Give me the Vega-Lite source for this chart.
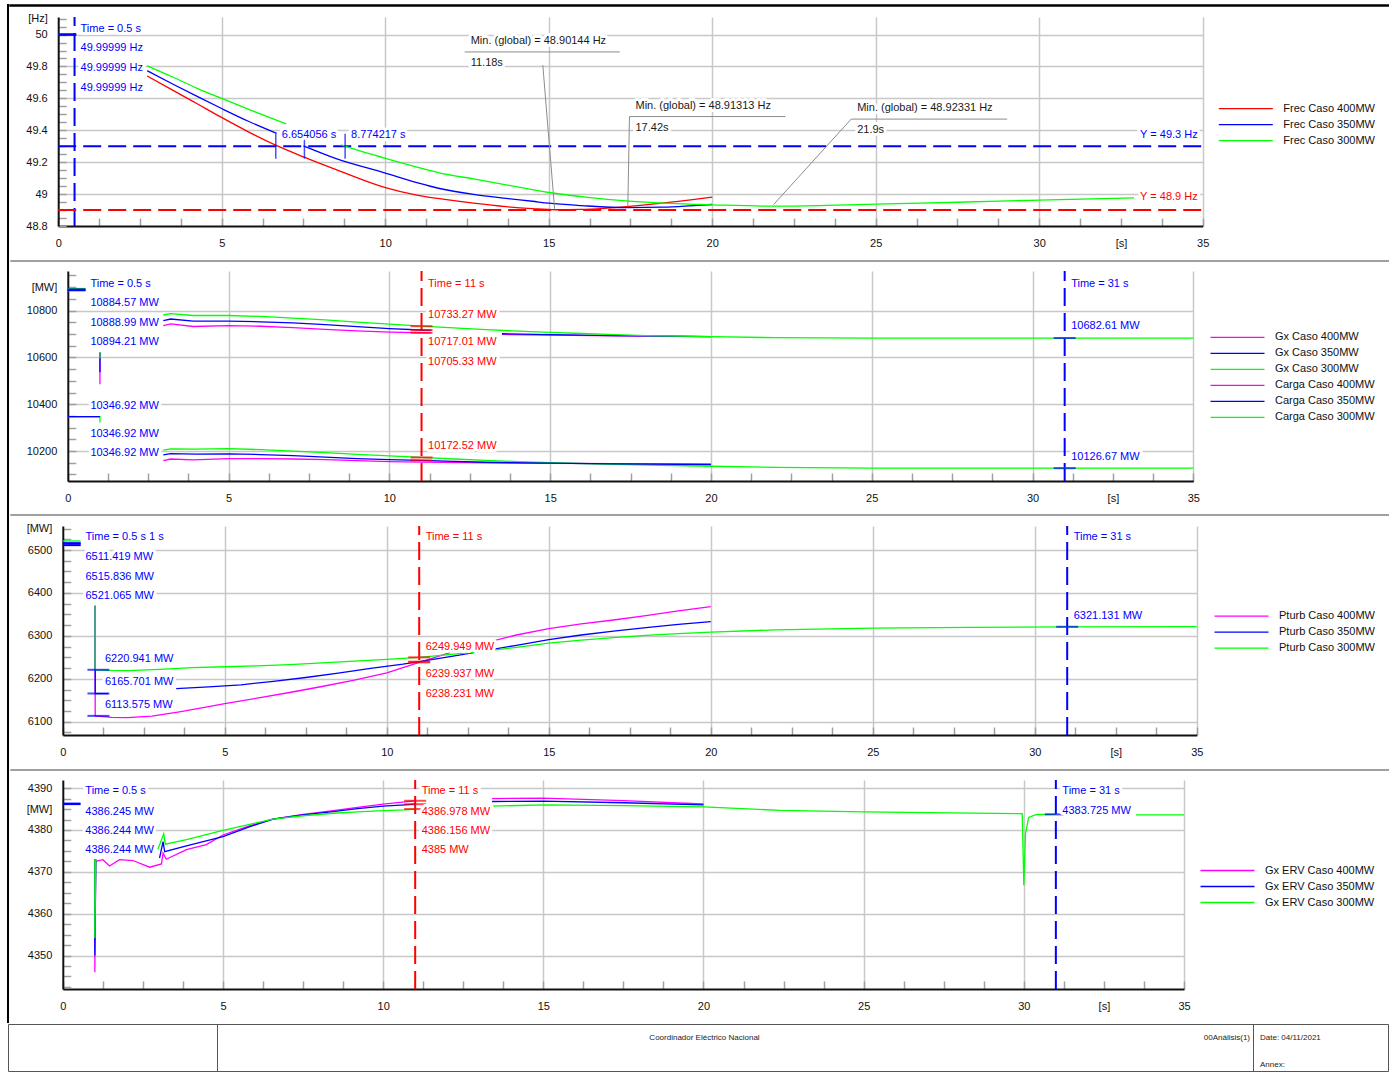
{
"$schema": "https://vega.github.io/schema/vega-lite/v6.json",
"background": "white",
"padding": {"left": 7, "top": 4, "right": 0, "bottom": 0},
"config": {
  "font": "Liberation Sans",
  "view": {"stroke": null},
  "axis": {"labelFont": "Liberation Sans", "labelFontSize": 11, "labelColor": "#111111", "domainColor": "#111111", "domainWidth": 2, "tickColor": "#a0a0a0", "tickWidth": 1.5, "tickSize": -8, "labelPadding": 19, "gridColor": "#c8c8c8", "gridWidth": 1.5, "labelOverlap": false, "labelFlush": false},
  "legend": {"orient": "none", "symbolType": "stroke", "symbolSize": 2916, "symbolStrokeWidth": 1.3, "labelFont": "Liberation Sans", "labelFontSize": 11, "labelColor": "#111111", "labelOffset": 9.5, "rowPadding": 0, "clipHeight": 16, "padding": 0},
  "text": {"font": "Liberation Sans", "fontSize": 11}
},
"datasets": {
  "p1s": [
    {"s":"Frec Caso 400MW","g":"a","t":0,"v":50},{"s":"Frec Caso 400MW","g":"a","t":0.55,"v":50},
    {"s":"Frec Caso 400MW","g":"b","t":2.72,"v":49.74},{"s":"Frec Caso 400MW","g":"b","t":3.5,"v":49.652},{"s":"Frec Caso 400MW","g":"b","t":4.25,"v":49.566},{"s":"Frec Caso 400MW","g":"b","t":4.98,"v":49.482},{"s":"Frec Caso 400MW","g":"b","t":5.8,"v":49.392},{"s":"Frec Caso 400MW","g":"b","t":6.67,"v":49.305},{"s":"Frec Caso 400MW","g":"b","t":7.5,"v":49.233},{"s":"Frec Caso 400MW","g":"b","t":8.5,"v":49.153},{"s":"Frec Caso 400MW","g":"b","t":9.98,"v":49.042},{"s":"Frec Caso 400MW","g":"b","t":11,"v":48.992},{"s":"Frec Caso 400MW","g":"b","t":11.66,"v":48.971},{"s":"Frec Caso 400MW","g":"b","t":12.7,"v":48.943},{"s":"Frec Caso 400MW","g":"b","t":13.7,"v":48.921},{"s":"Frec Caso 400MW","g":"b","t":14.5,"v":48.909},{"s":"Frec Caso 400MW","g":"b","t":15.2,"v":48.902},{"s":"Frec Caso 400MW","g":"b","t":16,"v":48.904},{"s":"Frec Caso 400MW","g":"b","t":16.7,"v":48.911},{"s":"Frec Caso 400MW","g":"b","t":17.37,"v":48.921},{"s":"Frec Caso 400MW","g":"b","t":18.1,"v":48.935},{"s":"Frec Caso 400MW","g":"b","t":18.8,"v":48.951},{"s":"Frec Caso 400MW","g":"b","t":19.4,"v":48.965},{"s":"Frec Caso 400MW","g":"b","t":20,"v":48.981},
    {"s":"Frec Caso 350MW","g":"a","t":0,"v":50},{"s":"Frec Caso 350MW","g":"a","t":0.55,"v":50},
    {"s":"Frec Caso 350MW","g":"b","t":2.72,"v":49.773},{"s":"Frec Caso 350MW","g":"b","t":3.5,"v":49.69},{"s":"Frec Caso 350MW","g":"b","t":4.25,"v":49.612},{"s":"Frec Caso 350MW","g":"b","t":4.98,"v":49.538},{"s":"Frec Caso 350MW","g":"b","t":5.8,"v":49.458},{"s":"Frec Caso 350MW","g":"b","t":6.68,"v":49.381},
    {"s":"Frec Caso 350MW","g":"c","t":7.5,"v":49.302},{"s":"Frec Caso 350MW","g":"c","t":8.5,"v":49.222},{"s":"Frec Caso 350MW","g":"c","t":9.98,"v":49.133},{"s":"Frec Caso 350MW","g":"c","t":11,"v":49.07},{"s":"Frec Caso 350MW","g":"c","t":11.66,"v":49.035},{"s":"Frec Caso 350MW","g":"c","t":12.7,"v":48.998},{"s":"Frec Caso 350MW","g":"c","t":13.7,"v":48.973},{"s":"Frec Caso 350MW","g":"c","t":14.5,"v":48.955},{"s":"Frec Caso 350MW","g":"c","t":15,"v":48.943},{"s":"Frec Caso 350MW","g":"c","t":16,"v":48.928},{"s":"Frec Caso 350MW","g":"c","t":17.4,"v":48.915},{"s":"Frec Caso 350MW","g":"c","t":18.5,"v":48.918},{"s":"Frec Caso 350MW","g":"c","t":19.3,"v":48.926},{"s":"Frec Caso 350MW","g":"c","t":20,"v":48.935},
    {"s":"Frec Caso 300MW","g":"a","t":0,"v":50},{"s":"Frec Caso 300MW","g":"a","t":0.55,"v":50},
    {"s":"Frec Caso 300MW","g":"b","t":2.72,"v":49.804},{"s":"Frec Caso 300MW","g":"b","t":3.5,"v":49.734},{"s":"Frec Caso 300MW","g":"b","t":4.25,"v":49.663},{"s":"Frec Caso 300MW","g":"b","t":4.98,"v":49.601},{"s":"Frec Caso 300MW","g":"b","t":6,"v":49.517},{"s":"Frec Caso 300MW","g":"b","t":6.97,"v":49.44},
    {"s":"Frec Caso 300MW","g":"c","t":8.65,"v":49.309},{"s":"Frec Caso 300MW","g":"c","t":9.3,"v":49.266},{"s":"Frec Caso 300MW","g":"c","t":9.98,"v":49.226},{"s":"Frec Caso 300MW","g":"c","t":11,"v":49.168},{"s":"Frec Caso 300MW","g":"c","t":11.66,"v":49.133},{"s":"Frec Caso 300MW","g":"c","t":12.7,"v":49.095},{"s":"Frec Caso 300MW","g":"c","t":13.7,"v":49.058},{"s":"Frec Caso 300MW","g":"c","t":15,"v":49.01},{"s":"Frec Caso 300MW","g":"c","t":16.2,"v":48.98},{"s":"Frec Caso 300MW","g":"c","t":17.37,"v":48.958},{"s":"Frec Caso 300MW","g":"c","t":18.7,"v":48.942},{"s":"Frec Caso 300MW","g":"c","t":20,"v":48.933},{"s":"Frec Caso 300MW","g":"c","t":21.9,"v":48.924},{"s":"Frec Caso 300MW","g":"c","t":23.5,"v":48.929},{"s":"Frec Caso 300MW","g":"c","t":25,"v":48.937},{"s":"Frec Caso 300MW","g":"c","t":27.5,"v":48.949},{"s":"Frec Caso 300MW","g":"c","t":30,"v":48.962},{"s":"Frec Caso 300MW","g":"c","t":32.9,"v":48.976}
  ],
  "p1vr": [{"t":0.5,"v":48.8,"v2":50.11,"cur":"t0.5"}],
  "p1hr": [{"t":0,"t2":35,"v":49.3,"cur":"y49.3"},{"t":0,"t2":35,"v":48.9,"cur":"y48.9"}],
  "p1ld": [
    {"t":14.82,"v":49.808,"t2":15.18,"v2":48.908,"cur":"min"},
    {"t":17.47,"v":49.486,"t2":17.42,"v2":48.921,"cur":"min"},
    {"t":24.25,"v":49.47,"t2":21.88,"v2":48.935,"cur":"min"},
    {"t":12.43,"v":49.891,"t2":17.17,"v2":49.891,"cur":"min"},
    {"t":17.47,"v":49.486,"t2":22.24,"v2":49.486,"cur":"min"},
    {"t":24.25,"v":49.47,"t2":29.02,"v2":49.47,"cur":"min"}
  ],
  "p1mk": [{"t":0,"t2":0.55,"v":50,"cur":"t0.5"}],
  "p1vt": [{"t":6.654,"v":49.3,"cur":"y49.3"},{"t":7.53,"v":49.3,"cur":"y49.3"},{"t":8.774,"v":49.3,"cur":"y49.3"}],
  "p1tx": [
    {"t":0.5,"v":50.033,"label":"Time = 0.5 s","cur":"t0.5"},
    {"t":0.5,"v":49.915,"label":"49.99999 Hz","cur":"t0.5"},
    {"t":0.5,"v":49.79,"label":"49.99999 Hz","cur":"t0.5"},
    {"t":0.5,"v":49.665,"label":"49.99999 Hz","cur":"t0.5"},
    {"t":6.654,"v":49.372,"label":"6.654056 s","cur":"y49.3"},
    {"t":8.774,"v":49.372,"label":"8.774217 s","cur":"y49.3"},
    {"t":12.43,"v":49.958,"label":"Min. (global) = 48.90144 Hz","cur":"min"},
    {"t":12.43,"v":49.821,"label":"11.18s","cur":"min"},
    {"t":17.47,"v":49.553,"label":"Min. (global) = 48.91313 Hz","cur":"min"},
    {"t":17.47,"v":49.415,"label":"17.42s","cur":"min"},
    {"t":24.25,"v":49.54,"label":"Min. (global) = 48.92331 Hz","cur":"min"},
    {"t":24.25,"v":49.403,"label":"21.9s","cur":"min"}
  ],
  "p1rt": [{"t":35,"v":49.372,"label":"Y = 49.3 Hz","cur":"y49.3"},{"t":35,"v":48.979,"label":"Y = 48.9 Hz","cur":"y48.9"}],

  "p2s": [
    {"s":"Gx Caso 400MW","g":"a","t":0,"v":10884.57},{"s":"Gx Caso 400MW","g":"a","t":0.55,"v":10884.57},
    {"s":"Gx Caso 400MW","g":"b","t":1,"v":10621},{"s":"Gx Caso 400MW","g":"b","t":1,"v":10485},
    {"s":"Gx Caso 400MW","g":"c","t":2.97,"v":10736},{"s":"Gx Caso 400MW","g":"c","t":3.2,"v":10743},{"s":"Gx Caso 400MW","g":"c","t":3.9,"v":10732},{"s":"Gx Caso 400MW","g":"c","t":5,"v":10736},{"s":"Gx Caso 400MW","g":"c","t":6,"v":10733},{"s":"Gx Caso 400MW","g":"c","t":7,"v":10727},{"s":"Gx Caso 400MW","g":"c","t":8,"v":10720},{"s":"Gx Caso 400MW","g":"c","t":9,"v":10713},{"s":"Gx Caso 400MW","g":"c","t":10,"v":10708},{"s":"Gx Caso 400MW","g":"c","t":11,"v":10705.3},{"s":"Gx Caso 400MW","g":"c","t":11.3,"v":10704.5},
    {"s":"Gx Caso 400MW","g":"d","t":13.5,"v":10698},{"s":"Gx Caso 400MW","g":"d","t":15,"v":10695},{"s":"Gx Caso 400MW","g":"d","t":17,"v":10692},{"s":"Gx Caso 400MW","g":"d","t":20,"v":10689},
    {"s":"Gx Caso 350MW","g":"a","t":0,"v":10888.99},{"s":"Gx Caso 350MW","g":"a","t":0.55,"v":10888.99},
    {"s":"Gx Caso 350MW","g":"b","t":1,"v":10621},{"s":"Gx Caso 350MW","g":"b","t":1,"v":10536},
    {"s":"Gx Caso 350MW","g":"c","t":2.97,"v":10757},{"s":"Gx Caso 350MW","g":"c","t":3.2,"v":10764},{"s":"Gx Caso 350MW","g":"c","t":3.9,"v":10755},{"s":"Gx Caso 350MW","g":"c","t":5,"v":10755},{"s":"Gx Caso 350MW","g":"c","t":6,"v":10752},{"s":"Gx Caso 350MW","g":"c","t":7,"v":10747},{"s":"Gx Caso 350MW","g":"c","t":8,"v":10740},{"s":"Gx Caso 350MW","g":"c","t":9,"v":10731},{"s":"Gx Caso 350MW","g":"c","t":10,"v":10723},{"s":"Gx Caso 350MW","g":"c","t":11,"v":10717},{"s":"Gx Caso 350MW","g":"c","t":11.3,"v":10715},
    {"s":"Gx Caso 350MW","g":"d","t":13.5,"v":10701},{"s":"Gx Caso 350MW","g":"d","t":15,"v":10697},{"s":"Gx Caso 350MW","g":"d","t":17,"v":10693},{"s":"Gx Caso 350MW","g":"d","t":20,"v":10689},
    {"s":"Gx Caso 300MW","g":"a","t":0,"v":10894.21},{"s":"Gx Caso 300MW","g":"a","t":0.55,"v":10894.21},
    {"s":"Gx Caso 300MW","g":"b","t":1,"v":10621},{"s":"Gx Caso 300MW","g":"b","t":1,"v":10596},
    {"s":"Gx Caso 300MW","g":"c","t":2.97,"v":10781},{"s":"Gx Caso 300MW","g":"c","t":3.2,"v":10787},{"s":"Gx Caso 300MW","g":"c","t":3.9,"v":10779},{"s":"Gx Caso 300MW","g":"c","t":5,"v":10779},{"s":"Gx Caso 300MW","g":"c","t":6,"v":10775},{"s":"Gx Caso 300MW","g":"c","t":7,"v":10768},{"s":"Gx Caso 300MW","g":"c","t":8,"v":10760},{"s":"Gx Caso 300MW","g":"c","t":9,"v":10751},{"s":"Gx Caso 300MW","g":"c","t":10,"v":10742},{"s":"Gx Caso 300MW","g":"c","t":11,"v":10733.3},{"s":"Gx Caso 300MW","g":"c","t":12,"v":10726},{"s":"Gx Caso 300MW","g":"c","t":13,"v":10719},{"s":"Gx Caso 300MW","g":"c","t":14,"v":10712},{"s":"Gx Caso 300MW","g":"c","t":15,"v":10707},{"s":"Gx Caso 300MW","g":"c","t":16,"v":10702},{"s":"Gx Caso 300MW","g":"c","t":17,"v":10697},{"s":"Gx Caso 300MW","g":"c","t":18,"v":10693},{"s":"Gx Caso 300MW","g":"c","t":20,"v":10689},{"s":"Gx Caso 300MW","g":"c","t":22,"v":10684},{"s":"Gx Caso 300MW","g":"c","t":25,"v":10682.5},{"s":"Gx Caso 300MW","g":"c","t":28,"v":10682},{"s":"Gx Caso 300MW","g":"c","t":31,"v":10682.6},{"s":"Gx Caso 300MW","g":"c","t":35,"v":10682.6},
    {"s":"Carga Caso 400MW","g":"a","t":0,"v":10346.92},{"s":"Carga Caso 400MW","g":"a","t":1,"v":10346.92},
    {"s":"Carga Caso 400MW","g":"c","t":2.97,"v":10159},{"s":"Carga Caso 400MW","g":"c","t":3.2,"v":10166},{"s":"Carga Caso 400MW","g":"c","t":3.9,"v":10162},{"s":"Carga Caso 400MW","g":"c","t":5,"v":10168},{"s":"Carga Caso 400MW","g":"c","t":6,"v":10168},{"s":"Carga Caso 400MW","g":"c","t":7,"v":10166},{"s":"Carga Caso 400MW","g":"c","t":8,"v":10163},{"s":"Carga Caso 400MW","g":"c","t":9,"v":10159},{"s":"Carga Caso 400MW","g":"c","t":10,"v":10155},{"s":"Carga Caso 400MW","g":"c","t":11,"v":10153},{"s":"Carga Caso 400MW","g":"c","t":13,"v":10150},{"s":"Carga Caso 400MW","g":"c","t":15,"v":10147},{"s":"Carga Caso 400MW","g":"c","t":17,"v":10146},{"s":"Carga Caso 400MW","g":"c","t":20,"v":10145},
    {"s":"Carga Caso 300MW","g":"a","t":0,"v":10346.92},{"s":"Carga Caso 300MW","g":"a","t":1,"v":10346.92},{"s":"Carga Caso 300MW","g":"a","t":1,"v":10322},
    {"s":"Carga Caso 300MW","g":"c","t":2.97,"v":10204},{"s":"Carga Caso 300MW","g":"c","t":3.2,"v":10209},{"s":"Carga Caso 300MW","g":"c","t":4,"v":10208},{"s":"Carga Caso 300MW","g":"c","t":5,"v":10210},{"s":"Carga Caso 300MW","g":"c","t":6,"v":10206},{"s":"Carga Caso 300MW","g":"c","t":7,"v":10200},{"s":"Carga Caso 300MW","g":"c","t":8,"v":10193},{"s":"Carga Caso 300MW","g":"c","t":9,"v":10186},{"s":"Carga Caso 300MW","g":"c","t":10,"v":10179},{"s":"Carga Caso 300MW","g":"c","t":11,"v":10172.5},{"s":"Carga Caso 300MW","g":"c","t":12,"v":10166},{"s":"Carga Caso 300MW","g":"c","t":13,"v":10160},{"s":"Carga Caso 300MW","g":"c","t":14,"v":10155},{"s":"Carga Caso 300MW","g":"c","t":15,"v":10150},{"s":"Carga Caso 300MW","g":"c","t":17,"v":10143},{"s":"Carga Caso 300MW","g":"c","t":20,"v":10135},{"s":"Carga Caso 300MW","g":"c","t":22,"v":10130},{"s":"Carga Caso 300MW","g":"c","t":25,"v":10127},{"s":"Carga Caso 300MW","g":"c","t":31,"v":10126.7},{"s":"Carga Caso 300MW","g":"c","t":35,"v":10127},
    {"s":"Carga Caso 350MW","g":"a","t":0,"v":10346.92},{"s":"Carga Caso 350MW","g":"a","t":1,"v":10346.92},
    {"s":"Carga Caso 350MW","g":"c","t":2.97,"v":10184},{"s":"Carga Caso 350MW","g":"c","t":3.2,"v":10189},{"s":"Carga Caso 350MW","g":"c","t":4,"v":10187},{"s":"Carga Caso 350MW","g":"c","t":5,"v":10188},{"s":"Carga Caso 350MW","g":"c","t":6,"v":10185},{"s":"Carga Caso 350MW","g":"c","t":7,"v":10180},{"s":"Carga Caso 350MW","g":"c","t":8,"v":10174},{"s":"Carga Caso 350MW","g":"c","t":9,"v":10168},{"s":"Carga Caso 350MW","g":"c","t":10,"v":10163},{"s":"Carga Caso 350MW","g":"c","t":11,"v":10160},{"s":"Carga Caso 350MW","g":"c","t":12,"v":10156},{"s":"Carga Caso 350MW","g":"c","t":13,"v":10152},{"s":"Carga Caso 350MW","g":"c","t":15,"v":10148},{"s":"Carga Caso 350MW","g":"c","t":17,"v":10145},{"s":"Carga Caso 350MW","g":"c","t":20,"v":10142}
  ],
  "p2vr": [{"t":11,"v":10072,"v2":10969,"cur":"t11"},{"t":31,"v":10072,"v2":10969,"cur":"t31"}],
  "p2mk": [{"t":0,"t2":0.55,"v":10889,"cur":"t0.5"}],
  "p2tk": [{"t":11,"v":10733.27,"cur":"t11"},{"t":11,"v":10717.01,"cur":"t11"},{"t":11,"v":10705.33,"cur":"t11"},{"t":11,"v":10172.52,"cur":"t11"},{"t":11,"v":10160,"cur":"t11"},{"t":31,"v":10682.61,"cur":"t31"},{"t":31,"v":10126.67,"cur":"t31"}],
  "p2tx": [
    {"t":0.5,"v":10914,"label":"Time = 0.5 s","cur":"t0.5"},
    {"t":0.5,"v":10831,"label":"10884.57 MW","cur":"t0.5"},
    {"t":0.5,"v":10746,"label":"10888.99 MW","cur":"t0.5"},
    {"t":0.5,"v":10665,"label":"10894.21 MW","cur":"t0.5"},
    {"t":0.5,"v":10394,"label":"10346.92 MW","cur":"t0.5"},
    {"t":0.5,"v":10273,"label":"10346.92 MW","cur":"t0.5"},
    {"t":0.5,"v":10190,"label":"10346.92 MW","cur":"t0.5"},
    {"t":11,"v":10914,"label":"Time = 11 s","cur":"t11"},
    {"t":11,"v":10783,"label":"10733.27 MW","cur":"t11"},
    {"t":11,"v":10665,"label":"10717.01 MW","cur":"t11"},
    {"t":11,"v":10582,"label":"10705.33 MW","cur":"t11"},
    {"t":11,"v":10220,"label":"10172.52 MW","cur":"t11"},
    {"t":31,"v":10914,"label":"Time = 31 s","cur":"t31"},
    {"t":31,"v":10732,"label":"10682.61 MW","cur":"t31"},
    {"t":31,"v":10176,"label":"10126.67 MW","cur":"t31"}
  ],

  "p3s": [
    {"s":"Pturb Caso 400MW","g":"a","t":0,"v":6511.42},{"s":"Pturb Caso 400MW","g":"a","t":0.55,"v":6511.42},
    {"s":"Pturb Caso 400MW","g":"b","t":1,"v":6370},{"s":"Pturb Caso 400MW","g":"b","t":1,"v":6113.6},{"s":"Pturb Caso 400MW","g":"b","t":1.5,"v":6110},{"s":"Pturb Caso 400MW","g":"b","t":2,"v":6109.5},{"s":"Pturb Caso 400MW","g":"b","t":2.75,"v":6113},{"s":"Pturb Caso 400MW","g":"b","t":3.6,"v":6123},{"s":"Pturb Caso 400MW","g":"b","t":4.5,"v":6135},{"s":"Pturb Caso 400MW","g":"b","t":5,"v":6142},{"s":"Pturb Caso 400MW","g":"b","t":6,"v":6155},{"s":"Pturb Caso 400MW","g":"b","t":7,"v":6168},{"s":"Pturb Caso 400MW","g":"b","t":8,"v":6182},{"s":"Pturb Caso 400MW","g":"b","t":9,"v":6197},{"s":"Pturb Caso 400MW","g":"b","t":10,"v":6214},{"s":"Pturb Caso 400MW","g":"b","t":11,"v":6238.2},{"s":"Pturb Caso 400MW","g":"b","t":12,"v":6262},{"s":"Pturb Caso 400MW","g":"b","t":13,"v":6283},{"s":"Pturb Caso 400MW","g":"b","t":14,"v":6302},{"s":"Pturb Caso 400MW","g":"b","t":15,"v":6317},{"s":"Pturb Caso 400MW","g":"b","t":16,"v":6328},{"s":"Pturb Caso 400MW","g":"b","t":17,"v":6337},{"s":"Pturb Caso 400MW","g":"b","t":18,"v":6347},{"s":"Pturb Caso 400MW","g":"b","t":19,"v":6358},{"s":"Pturb Caso 400MW","g":"b","t":20,"v":6368},
    {"s":"Pturb Caso 350MW","g":"a","t":0,"v":6515.84},{"s":"Pturb Caso 350MW","g":"a","t":0.55,"v":6515.84},
    {"s":"Pturb Caso 350MW","g":"b","t":1,"v":6370},{"s":"Pturb Caso 350MW","g":"b","t":1,"v":6165.7},{"s":"Pturb Caso 350MW","g":"b","t":1.4,"v":6165.5},
    {"s":"Pturb Caso 350MW","g":"c","t":3.5,"v":6177},{"s":"Pturb Caso 350MW","g":"c","t":4.5,"v":6181},{"s":"Pturb Caso 350MW","g":"c","t":5.5,"v":6186},{"s":"Pturb Caso 350MW","g":"c","t":6.5,"v":6194},{"s":"Pturb Caso 350MW","g":"c","t":7.5,"v":6203},{"s":"Pturb Caso 350MW","g":"c","t":8.5,"v":6213},{"s":"Pturb Caso 350MW","g":"c","t":9.5,"v":6224},{"s":"Pturb Caso 350MW","g":"c","t":10.5,"v":6234},{"s":"Pturb Caso 350MW","g":"c","t":11,"v":6239.9},{"s":"Pturb Caso 350MW","g":"c","t":12,"v":6252},{"s":"Pturb Caso 350MW","g":"c","t":13,"v":6265},{"s":"Pturb Caso 350MW","g":"c","t":14,"v":6278},{"s":"Pturb Caso 350MW","g":"c","t":15,"v":6291},{"s":"Pturb Caso 350MW","g":"c","t":16,"v":6302},{"s":"Pturb Caso 350MW","g":"c","t":17,"v":6311},{"s":"Pturb Caso 350MW","g":"c","t":18,"v":6319},{"s":"Pturb Caso 350MW","g":"c","t":19,"v":6327},{"s":"Pturb Caso 350MW","g":"c","t":20,"v":6333},
    {"s":"Pturb Caso 300MW","g":"a","t":0,"v":6521.07},{"s":"Pturb Caso 300MW","g":"a","t":0.55,"v":6521.07},
    {"s":"Pturb Caso 300MW","g":"b","t":1,"v":6370},{"s":"Pturb Caso 300MW","g":"b","t":1,"v":6220.9},{"s":"Pturb Caso 300MW","g":"b","t":1.4,"v":6219.5},{"s":"Pturb Caso 300MW","g":"b","t":2,"v":6219},{"s":"Pturb Caso 300MW","g":"b","t":3,"v":6222},{"s":"Pturb Caso 300MW","g":"b","t":4,"v":6226},{"s":"Pturb Caso 300MW","g":"b","t":5,"v":6228},{"s":"Pturb Caso 300MW","g":"b","t":6,"v":6230},{"s":"Pturb Caso 300MW","g":"b","t":7,"v":6233},{"s":"Pturb Caso 300MW","g":"b","t":8,"v":6237},{"s":"Pturb Caso 300MW","g":"b","t":9,"v":6241},{"s":"Pturb Caso 300MW","g":"b","t":10,"v":6245},{"s":"Pturb Caso 300MW","g":"b","t":11,"v":6249.9},{"s":"Pturb Caso 300MW","g":"b","t":12,"v":6257},{"s":"Pturb Caso 300MW","g":"b","t":13,"v":6264},{"s":"Pturb Caso 300MW","g":"b","t":14,"v":6273},{"s":"Pturb Caso 300MW","g":"b","t":15,"v":6283},{"s":"Pturb Caso 300MW","g":"b","t":16,"v":6290},{"s":"Pturb Caso 300MW","g":"b","t":17,"v":6296},{"s":"Pturb Caso 300MW","g":"b","t":18,"v":6301},{"s":"Pturb Caso 300MW","g":"b","t":19,"v":6305},{"s":"Pturb Caso 300MW","g":"b","t":20,"v":6308.6},{"s":"Pturb Caso 300MW","g":"b","t":22,"v":6314},{"s":"Pturb Caso 300MW","g":"b","t":25,"v":6318},{"s":"Pturb Caso 300MW","g":"b","t":28,"v":6320},{"s":"Pturb Caso 300MW","g":"b","t":31,"v":6321.1},{"s":"Pturb Caso 300MW","g":"b","t":35,"v":6321.5}
  ],
  "p3vr": [{"t":11,"v":6069,"v2":6556,"cur":"t11"},{"t":31,"v":6069,"v2":6556,"cur":"t31"}],
  "p3mk": [{"t":0,"t2":0.55,"v":6515.84,"cur":"t0.5"},{"t":0,"t2":0.55,"v":6511.42,"cur":"t0.5"}],
  "p3tk": [{"t":1.1,"v":6220.941,"cur":"t1"},{"t":1.1,"v":6165.701,"cur":"t1"},{"t":1.1,"v":6113.575,"cur":"t1"},{"t":11,"v":6249.949,"cur":"t11"},{"t":11,"v":6239.937,"cur":"t11"},{"t":11,"v":6238.231,"cur":"t11"},{"t":31,"v":6321.131,"cur":"t31"}],
  "p3tx": [
    {"t":0.5,"v":6529.6,"label":"Time = 0.5 s 1 s","cur":"t0.5"},
    {"t":0.5,"v":6483,"label":"6511.419 MW","cur":"t0.5"},
    {"t":0.5,"v":6437.8,"label":"6515.836 MW","cur":"t0.5"},
    {"t":0.5,"v":6392.8,"label":"6521.065 MW","cur":"t0.5"},
    {"t":1.1,"v":6245.9,"label":"6220.941 MW","cur":"t1"},
    {"t":1.1,"v":6191.6,"label":"6165.701 MW","cur":"t1"},
    {"t":1.1,"v":6138.7,"label":"6113.575 MW","cur":"t1"},
    {"t":11,"v":6529.6,"label":"Time = 11 s","cur":"t11"},
    {"t":11,"v":6274.6,"label":"6249.949 MW","cur":"t11"},
    {"t":11,"v":6211,"label":"6239.937 MW","cur":"t11"},
    {"t":11,"v":6164.3,"label":"6238.231 MW","cur":"t11"},
    {"t":31,"v":6529.6,"label":"Time = 31 s","cur":"t31"},
    {"t":31,"v":6346,"label":"6321.131 MW","cur":"t31"}
  ],

  "p4s": [
    {"s":"Gx ERV Caso 400MW","g":"a","t":0,"v":4386.245},{"s":"Gx ERV Caso 400MW","g":"a","t":0.55,"v":4386.245},
    {"s":"Gx ERV Caso 400MW","g":"b","t":1,"v":4373},{"s":"Gx ERV Caso 400MW","g":"b","t":1,"v":4346},{"s":"Gx ERV Caso 400MW","g":"b","t":1.03,"v":4372.5},{"s":"Gx ERV Caso 400MW","g":"b","t":1.25,"v":4372.9},{"s":"Gx ERV Caso 400MW","g":"b","t":1.46,"v":4371.4},{"s":"Gx ERV Caso 400MW","g":"b","t":1.77,"v":4372.9},{"s":"Gx ERV Caso 400MW","g":"b","t":2.19,"v":4372.7},{"s":"Gx ERV Caso 400MW","g":"b","t":2.71,"v":4371.1},{"s":"Gx ERV Caso 400MW","g":"b","t":3.08,"v":4371.9},{"s":"Gx ERV Caso 400MW","g":"b","t":3.13,"v":4374.5},{"s":"Gx ERV Caso 400MW","g":"b","t":3.23,"v":4373},{"s":"Gx ERV Caso 400MW","g":"b","t":3.86,"v":4375.3},{"s":"Gx ERV Caso 400MW","g":"b","t":4.48,"v":4376.5},{"s":"Gx ERV Caso 400MW","g":"b","t":5,"v":4378.8},{"s":"Gx ERV Caso 400MW","g":"b","t":5.8,"v":4380.9},{"s":"Gx ERV Caso 400MW","g":"b","t":6.56,"v":4382.6},{"s":"Gx ERV Caso 400MW","g":"b","t":7.5,"v":4383.7},{"s":"Gx ERV Caso 400MW","g":"b","t":8.44,"v":4384.6},{"s":"Gx ERV Caso 400MW","g":"b","t":9.2,"v":4385.4},{"s":"Gx ERV Caso 400MW","g":"b","t":10,"v":4386.2},{"s":"Gx ERV Caso 400MW","g":"b","t":10.68,"v":4386.7},{"s":"Gx ERV Caso 400MW","g":"b","t":11,"v":4386.98},
    {"s":"Gx ERV Caso 400MW","g":"c","t":13.4,"v":4387.5},{"s":"Gx ERV Caso 400MW","g":"c","t":15,"v":4387.6},{"s":"Gx ERV Caso 400MW","g":"c","t":17.5,"v":4387},{"s":"Gx ERV Caso 400MW","g":"c","t":20,"v":4386.2},
    {"s":"Gx ERV Caso 350MW","g":"a","t":0,"v":4386.244},{"s":"Gx ERV Caso 350MW","g":"a","t":0.55,"v":4386.244},
    {"s":"Gx ERV Caso 350MW","g":"b","t":1,"v":4373},{"s":"Gx ERV Caso 350MW","g":"b","t":1,"v":4350},{"s":"Gx ERV Caso 350MW","g":"b","t":1.03,"v":4373},
    {"s":"Gx ERV Caso 350MW","g":"c","t":3.02,"v":4373.3},{"s":"Gx ERV Caso 350MW","g":"c","t":3.13,"v":4377.2},{"s":"Gx ERV Caso 350MW","g":"c","t":3.18,"v":4374.8},{"s":"Gx ERV Caso 350MW","g":"c","t":3.86,"v":4376.2},{"s":"Gx ERV Caso 350MW","g":"c","t":5,"v":4378.4},{"s":"Gx ERV Caso 350MW","g":"c","t":5.8,"v":4380.7},{"s":"Gx ERV Caso 350MW","g":"c","t":6.56,"v":4382.6},{"s":"Gx ERV Caso 350MW","g":"c","t":7.5,"v":4383.6},{"s":"Gx ERV Caso 350MW","g":"c","t":8.44,"v":4384.4},{"s":"Gx ERV Caso 350MW","g":"c","t":9.2,"v":4385.1},{"s":"Gx ERV Caso 350MW","g":"c","t":10,"v":4385.7},{"s":"Gx ERV Caso 350MW","g":"c","t":10.68,"v":4386},{"s":"Gx ERV Caso 350MW","g":"c","t":11,"v":4386.16},
    {"s":"Gx ERV Caso 350MW","g":"d","t":13.4,"v":4386.8},{"s":"Gx ERV Caso 350MW","g":"d","t":15,"v":4386.9},{"s":"Gx ERV Caso 350MW","g":"d","t":17.5,"v":4386.5},{"s":"Gx ERV Caso 350MW","g":"d","t":20,"v":4386},
    {"s":"Gx ERV Caso 300MW","g":"a","t":0,"v":4386.244},{"s":"Gx ERV Caso 300MW","g":"a","t":0.55,"v":4386.244},
    {"s":"Gx ERV Caso 300MW","g":"b","t":1,"v":4373},{"s":"Gx ERV Caso 300MW","g":"b","t":1,"v":4354.2},{"s":"Gx ERV Caso 300MW","g":"b","t":1.03,"v":4373},
    {"s":"Gx ERV Caso 300MW","g":"c","t":2.97,"v":4375.4},{"s":"Gx ERV Caso 300MW","g":"c","t":3.15,"v":4379.1},{"s":"Gx ERV Caso 300MW","g":"c","t":3.2,"v":4376.6},{"s":"Gx ERV Caso 300MW","g":"c","t":3.86,"v":4377.7},{"s":"Gx ERV Caso 300MW","g":"c","t":5,"v":4379.9},{"s":"Gx ERV Caso 300MW","g":"c","t":5.8,"v":4381.3},{"s":"Gx ERV Caso 300MW","g":"c","t":6.56,"v":4382.6},{"s":"Gx ERV Caso 300MW","g":"c","t":7.5,"v":4383.4},{"s":"Gx ERV Caso 300MW","g":"c","t":8.44,"v":4384},{"s":"Gx ERV Caso 300MW","g":"c","t":9.2,"v":4384.3},{"s":"Gx ERV Caso 300MW","g":"c","t":10,"v":4384.6},{"s":"Gx ERV Caso 300MW","g":"c","t":10.68,"v":4384.8},{"s":"Gx ERV Caso 300MW","g":"c","t":11,"v":4385},
    {"s":"Gx ERV Caso 300MW","g":"d","t":13.4,"v":4385.7},{"s":"Gx ERV Caso 300MW","g":"d","t":15.1,"v":4386},{"s":"Gx ERV Caso 300MW","g":"d","t":17.5,"v":4385.8},{"s":"Gx ERV Caso 300MW","g":"d","t":20,"v":4385.5},{"s":"Gx ERV Caso 300MW","g":"d","t":22.4,"v":4384.7},{"s":"Gx ERV Caso 300MW","g":"d","t":25,"v":4384.3},{"s":"Gx ERV Caso 300MW","g":"d","t":27.7,"v":4384.1},{"s":"Gx ERV Caso 300MW","g":"d","t":29.95,"v":4383.9},{"s":"Gx ERV Caso 300MW","g":"d","t":30,"v":4366.8},{"s":"Gx ERV Caso 300MW","g":"d","t":30.05,"v":4379},{"s":"Gx ERV Caso 300MW","g":"d","t":30.15,"v":4383},{"s":"Gx ERV Caso 300MW","g":"d","t":30.4,"v":4383.7},{"s":"Gx ERV Caso 300MW","g":"d","t":31,"v":4383.73},
    {"s":"Gx ERV Caso 300MW","g":"e","t":33.5,"v":4383.6},{"s":"Gx ERV Caso 300MW","g":"e","t":35,"v":4383.6}
  ],
  "p4vr": [{"t":11,"v":4342,"v2":4391.94,"cur":"t11"},{"t":31,"v":4342,"v2":4391.94,"cur":"t31"}],
  "p4mk": [{"t":0,"t2":0.55,"v":4386.24,"cur":"t0.5"}],
  "p4tk": [{"t":11,"v":4386.978,"cur":"t11"},{"t":11,"v":4386.156,"cur":"t11"},{"t":11,"v":4385,"cur":"t11"},{"t":31,"v":4383.725,"cur":"t31"}],
  "p4tx": [
    {"t":0.5,"v":4389.2,"label":"Time = 0.5 s","cur":"t0.5"},
    {"t":0.5,"v":4384.4,"label":"4386.245 MW","cur":"t0.5"},
    {"t":0.5,"v":4379.8,"label":"4386.244 MW","cur":"t0.5"},
    {"t":0.5,"v":4375.1,"label":"4386.244 MW","cur":"t0.5"},
    {"t":11,"v":4389.2,"label":"Time = 11 s","cur":"t11"},
    {"t":11,"v":4384.4,"label":"4386.978 MW","cur":"t11"},
    {"t":11,"v":4379.8,"label":"4386.156 MW","cur":"t11"},
    {"t":11,"v":4375.1,"label":"4385 MW","cur":"t11"},
    {"t":31,"v":4389.2,"label":"Time = 31 s","cur":"t31"},
    {"t":31,"v":4384.6,"label":"4383.725 MW","cur":"t31"}
  ]
},
"spacing": 0,
"resolve": {"scale": {"color": "independent", "fill": "independent", "stroke": "independent"}, "legend": {"color": "independent"}},
"vconcat": [
  {
    "spacing": -3,
    "resolve": {"scale": {"color": "independent", "fill": "independent", "stroke": "independent"}, "legend": {"color": "independent"}},
    "hconcat": [
      {"width": 0.01, "height": 1017, "data": {"values": []}, "mark": "rule", "encoding": {}, "view": {"stroke": "#000000", "strokeWidth": 2}},
      {
        "bounds": "flush",
        "spacing": 0,
        "resolve": {"scale": {"color": "independent", "fill": "independent", "stroke": "independent"}, "legend": {"color": "independent"}},
        "vconcat": [
          {"width": 1380, "height": 1, "data": {"values": []}, "mark": "rule", "encoding": {}, "view": {"stroke": "#000000", "strokeWidth": 1.5}},
          {"width": 1, "height": 11, "data": {"values": []}, "mark": "rule", "encoding": {}},
          {
            "width": 1195.2, "height": 209,
            "encoding": {
              "x": {"field": "t", "type": "quantitative", "scale": {"domain": [0, 35], "range": [48.2, 1192.7], "nice": false, "zero": false},
                    "axis": {"title": null, "values": [0,1.25,2.5,3.75,5,6.25,7.5,8.75,10,11.25,12.5,13.75,15,16.25,17.5,18.75,20,21.25,22.5,23.75,25,26.25,27.5,28.75,30,31.25,32.5,33.75,35], "grid": true, "gridOpacity": {"condition": {"test": "datum.value % 5 == 0 && datum.value > 0", "value": 1}, "value": 0}, "labelExpr": "datum.value == 32.5 ? '[s]' : (datum.value % 5 == 0 ? format(datum.value, '~g') : '')"}},
              "y": {"field": "v", "type": "quantitative", "scale": {"domain": [48.8, 50.11], "nice": false, "zero": false},
                    "axis": {"title": null, "offset": -48.2, "values": [48.8,48.85,48.9,48.95,49,49.05,49.1,49.15,49.2,49.25,49.3,49.35,49.4,49.45,49.5,49.55,49.6,49.65,49.7,49.75,49.8,49.85,49.9,49.95,50,50.05,50.1], "grid": true, "gridOpacity": {"condition": {"test": "abs(datum.value*5 - round(datum.value*5)) < 0.01 && datum.value > 48.81", "value": 1}, "value": 0}, "labelExpr": "datum.value == 50.1 ? '[Hz]' : (abs(datum.value*5 - round(datum.value*5)) < 0.01 ? format(datum.value, '~g') : '')"}}
            },
            "layer": [
              {"data": {"name": "p1vr"}, "mark": {"type": "rule", "strokeWidth": 2, "strokeDash": [18, 7]}, "encoding": {"y2": {"field": "v2"}, "stroke": {"field": "cur", "type": "nominal", "legend": null, "scale": {"domain": ["t0.5","t1","t11","t31","y49.3","y48.9","min"], "range": ["#0000ff","#0000ff","#ff0000","#0000ff","#0000ff","#ff0000","#8c8c8c"]}}}},
              {"data": {"name": "p1hr"}, "mark": {"type": "rule", "strokeWidth": 2, "strokeDash": [18, 7]}, "encoding": {"x2": {"field": "t2"}, "stroke": {"field": "cur", "type": "nominal", "legend": null, "scale": {"domain": ["t0.5","t1","t11","t31","y49.3","y48.9","min"], "range": ["#0000ff","#0000ff","#ff0000","#0000ff","#0000ff","#ff0000","#8c8c8c"]}}}},
              {"data": {"name": "p1s"}, "mark": {"type": "line", "strokeWidth": 1.3, "interpolate": "monotone"}, "encoding": {"color": {"field": "s", "type": "nominal", "scale": {"domain": ["Frec Caso 400MW","Frec Caso 350MW","Frec Caso 300MW"], "range": ["#ff0000","#0000ff","#00ff00"]}, "legend": {"title": null, "orient": "none", "legendX": 1207.8, "legendY": 83.6}}, "detail": {"field": "g"}, "order": {"value": null}}},
              {"data": {"name": "p1ld"}, "mark": {"type": "rule", "strokeWidth": 1}, "encoding": {"x2": {"field": "t2"}, "y2": {"field": "v2"}, "stroke": {"field": "cur", "type": "nominal", "legend": null, "scale": {"domain": ["t0.5","t1","t11","t31","y49.3","y48.9","min"], "range": ["#0000ff","#0000ff","#ff0000","#0000ff","#0000ff","#ff0000","#8c8c8c"]}}}},
              {"data": {"name": "p1mk"}, "mark": {"type": "rule", "strokeWidth": 2.5}, "encoding": {"x2": {"field": "t2"}, "stroke": {"field": "cur", "type": "nominal", "legend": null, "scale": {"domain": ["t0.5","t1","t11","t31","y49.3","y48.9","min"], "range": ["#0000ff","#0000ff","#ff0000","#0000ff","#0000ff","#ff0000","#8c8c8c"]}}}},
              {"data": {"name": "p1vt"}, "mark": {"type": "tick", "orient": "vertical", "size": 25, "thickness": 1.5}, "encoding": {"fill": {"field": "cur", "type": "nominal", "legend": null, "scale": {"domain": ["t0.5","t1","t11","t31","y49.3","y48.9","min"], "range": ["#0000ff","#0000ff","#ff0000","#0000ff","#0000ff","#ff0000","#1a1a1a"]}}}},
              {"data": {"name": "p1tx"}, "mark": {"type": "text", "align": "left", "baseline": "middle", "dx": 6, "fill": "white", "stroke": "white", "strokeWidth": 6, "strokeJoin": "round"}, "encoding": {"text": {"field": "label"}}},
              {"data": {"name": "p1rt"}, "mark": {"type": "text", "align": "right", "baseline": "middle", "dx": -5, "fill": "white", "stroke": "white", "strokeWidth": 6, "strokeJoin": "round"}, "encoding": {"text": {"field": "label"}}},
              {"data": {"name": "p1tx"}, "mark": {"type": "text", "align": "left", "baseline": "middle", "dx": 6}, "encoding": {"text": {"field": "label"}, "fill": {"field": "cur", "type": "nominal", "legend": null, "scale": {"domain": ["t0.5","t1","t11","t31","y49.3","y48.9","min"], "range": ["#0000ff","#0000ff","#ff0000","#0000ff","#0000ff","#ff0000","#1a1a1a"]}}}},
              {"data": {"name": "p1rt"}, "mark": {"type": "text", "align": "right", "baseline": "middle", "dx": -5}, "encoding": {"text": {"field": "label"}, "fill": {"field": "cur", "type": "nominal", "legend": null, "scale": {"domain": ["t0.5","t1","t11","t31","y49.3","y48.9","min"], "range": ["#0000ff","#0000ff","#ff0000","#0000ff","#0000ff","#ff0000","#1a1a1a"]}}}}
            ]
          },
          {"width": 1, "height": 34, "data": {"values": []}, "mark": "rule", "encoding": {}},
          {"width": 1380, "height": 1, "data": {"values": []}, "mark": "rule", "encoding": {}, "view": {"stroke": "#a0a0a0", "strokeWidth": 1}},
          {"width": 1, "height": 10, "data": {"values": []}, "mark": "rule", "encoding": {}},
          {
            "width": 1185.8, "height": 210,
            "encoding": {
              "x": {"field": "t", "type": "quantitative", "scale": {"domain": [0, 35], "range": [57.8, 1183.3], "nice": false, "zero": false},
                    "axis": {"title": null, "values": [0,1.25,2.5,3.75,5,6.25,7.5,8.75,10,11.25,12.5,13.75,15,16.25,17.5,18.75,20,21.25,22.5,23.75,25,26.25,27.5,28.75,30,31.25,32.5,33.75,35], "grid": true, "gridOpacity": {"condition": {"test": "datum.value % 5 == 0 && datum.value > 0", "value": 1}, "value": 0}, "labelExpr": "datum.value == 32.5 ? '[s]' : (datum.value % 5 == 0 ? format(datum.value, '~g') : '')"}},
              "y": {"field": "v", "type": "quantitative", "scale": {"domain": [10072, 10969], "nice": false, "zero": false},
                    "axis": {"title": null, "offset": -57.8, "values": [10100,10150,10200,10250,10300,10350,10400,10450,10500,10550,10600,10650,10700,10750,10800,10850,10900,10950], "grid": true, "gridOpacity": {"condition": {"test": "datum.value % 200 == 0", "value": 1}, "value": 0}, "labelExpr": "datum.value == 10900 ? '[MW]' : (datum.value % 200 == 0 ? format(datum.value, 'd') : '')"}}
            },
            "layer": [
              {"data": {"name": "p2vr"}, "mark": {"type": "rule", "strokeWidth": 2, "strokeDash": [18, 7]}, "encoding": {"y2": {"field": "v2"}, "stroke": {"field": "cur", "type": "nominal", "legend": null, "scale": {"domain": ["t0.5","t1","t11","t31","y49.3","y48.9","min"], "range": ["#0000ff","#0000ff","#ff0000","#0000ff","#0000ff","#ff0000","#8c8c8c"]}}}},
              {"data": {"name": "p2s"}, "mark": {"type": "line", "strokeWidth": 1.3}, "encoding": {"color": {"field": "s", "type": "nominal", "scale": {"domain": ["Gx Caso 400MW","Gx Caso 350MW","Gx Caso 300MW","Carga Caso 400MW","Carga Caso 350MW","Carga Caso 300MW"], "range": ["#ff00ff","#0000ff","#00ff00","#ff00ff","#0000ff","#00ff00"]}, "legend": {"title": null, "orient": "none", "legendX": 1199.5, "legendY": 58.4}}, "detail": {"field": "g"}, "order": {"value": null}}},
              {"data": {"name": "p2mk"}, "mark": {"type": "rule", "strokeWidth": 2.5}, "encoding": {"x2": {"field": "t2"}, "stroke": {"field": "cur", "type": "nominal", "legend": null, "scale": {"domain": ["t0.5","t1","t11","t31","y49.3","y48.9","min"], "range": ["#0000ff","#0000ff","#ff0000","#0000ff","#0000ff","#ff0000","#8c8c8c"]}}}},
              {"data": {"name": "p2tk"}, "mark": {"type": "tick", "orient": "horizontal", "size": 22, "thickness": 2}, "encoding": {"fill": {"field": "cur", "type": "nominal", "legend": null, "scale": {"domain": ["t0.5","t1","t11","t31","y49.3","y48.9","min"], "range": ["#0000ff","#0000ff","#ff0000","#0000ff","#0000ff","#ff0000","#1a1a1a"]}}}},
              {"data": {"name": "p2tx"}, "mark": {"type": "text", "align": "left", "baseline": "middle", "dx": 6.5, "fill": "white", "stroke": "white", "strokeWidth": 6, "strokeJoin": "round"}, "encoding": {"text": {"field": "label"}}},
              {"data": {"name": "p2tx"}, "mark": {"type": "text", "align": "left", "baseline": "middle", "dx": 6.5}, "encoding": {"text": {"field": "label"}, "fill": {"field": "cur", "type": "nominal", "legend": null, "scale": {"domain": ["t0.5","t1","t11","t31","y49.3","y48.9","min"], "range": ["#0000ff","#0000ff","#ff0000","#0000ff","#0000ff","#ff0000","#1a1a1a"]}}}}
            ]
          },
          {"width": 1, "height": 33, "data": {"values": []}, "mark": "rule", "encoding": {}},
          {"width": 1380, "height": 1, "data": {"values": []}, "mark": "rule", "encoding": {}, "view": {"stroke": "#a0a0a0", "strokeWidth": 1}},
          {"width": 1, "height": 11, "data": {"values": []}, "mark": "rule", "encoding": {}},
          {
            "width": 1189.3, "height": 209,
            "encoding": {
              "x": {"field": "t", "type": "quantitative", "scale": {"domain": [0, 35], "range": [52.8, 1186.8], "nice": false, "zero": false},
                    "axis": {"title": null, "values": [0,1.25,2.5,3.75,5,6.25,7.5,8.75,10,11.25,12.5,13.75,15,16.25,17.5,18.75,20,21.25,22.5,23.75,25,26.25,27.5,28.75,30,31.25,32.5,33.75,35], "grid": true, "gridOpacity": {"condition": {"test": "datum.value % 5 == 0 && datum.value > 0", "value": 1}, "value": 0}, "labelExpr": "datum.value == 32.5 ? '[s]' : (datum.value % 5 == 0 ? format(datum.value, '~g') : '')"}},
              "y": {"field": "v", "type": "quantitative", "scale": {"domain": [6069, 6556], "nice": false, "zero": false},
                    "axis": {"title": null, "offset": -52.8, "values": [6075,6100,6125,6150,6175,6200,6225,6250,6275,6300,6325,6350,6375,6400,6425,6450,6475,6500,6525,6550], "grid": true, "gridOpacity": {"condition": {"test": "datum.value % 100 == 0", "value": 1}, "value": 0}, "labelExpr": "datum.value == 6550 ? '[MW]' : (datum.value % 100 == 0 ? format(datum.value, 'd') : '')"}}
            },
            "layer": [
              {"data": {"name": "p3vr"}, "mark": {"type": "rule", "strokeWidth": 2, "strokeDash": [18, 7]}, "encoding": {"y2": {"field": "v2"}, "stroke": {"field": "cur", "type": "nominal", "legend": null, "scale": {"domain": ["t0.5","t1","t11","t31","y49.3","y48.9","min"], "range": ["#0000ff","#0000ff","#ff0000","#0000ff","#0000ff","#ff0000","#8c8c8c"]}}}},
              {"data": {"name": "p3s"}, "mark": {"type": "line", "strokeWidth": 1.3}, "encoding": {"color": {"field": "s", "type": "nominal", "scale": {"domain": ["Pturb Caso 400MW","Pturb Caso 350MW","Pturb Caso 300MW"], "range": ["#ff00ff","#0000ff","#00ff00"]}, "legend": {"title": null, "orient": "none", "legendX": 1203.5, "legendY": 82.2}}, "detail": {"field": "g"}, "order": {"value": null}}},
              {"data": {"name": "p3mk"}, "mark": {"type": "rule", "strokeWidth": 2}, "encoding": {"x2": {"field": "t2"}, "stroke": {"field": "cur", "type": "nominal", "legend": null, "scale": {"domain": ["t0.5","t1","t11","t31","y49.3","y48.9","min"], "range": ["#0000ff","#0000ff","#ff0000","#0000ff","#0000ff","#ff0000","#8c8c8c"]}}}},
              {"data": {"name": "p3tk"}, "mark": {"type": "tick", "orient": "horizontal", "size": 22, "thickness": 2}, "encoding": {"fill": {"field": "cur", "type": "nominal", "legend": null, "scale": {"domain": ["t0.5","t1","t11","t31","y49.3","y48.9","min"], "range": ["#0000ff","#0000ff","#ff0000","#0000ff","#0000ff","#ff0000","#1a1a1a"]}}}},
              {"data": {"name": "p3tx"}, "mark": {"type": "text", "align": "left", "baseline": "middle", "dx": 6.5, "fill": "white", "stroke": "white", "strokeWidth": 6, "strokeJoin": "round"}, "encoding": {"text": {"field": "label"}}},
              {"data": {"name": "p3tx"}, "mark": {"type": "text", "align": "left", "baseline": "middle", "dx": 6.5}, "encoding": {"text": {"field": "label"}, "fill": {"field": "cur", "type": "nominal", "legend": null, "scale": {"domain": ["t0.5","t1","t11","t31","y49.3","y48.9","min"], "range": ["#0000ff","#0000ff","#ff0000","#0000ff","#0000ff","#ff0000","#1a1a1a"]}}}}
            ]
          },
          {"width": 1, "height": 34, "data": {"values": []}, "mark": "rule", "encoding": {}},
          {"width": 1380, "height": 1, "data": {"values": []}, "mark": "rule", "encoding": {}, "view": {"stroke": "#a0a0a0", "strokeWidth": 1}},
          {"width": 1, "height": 10, "data": {"values": []}, "mark": "rule", "encoding": {}},
          {
            "width": 1176.5, "height": 209,
            "encoding": {
              "x": {"field": "t", "type": "quantitative", "scale": {"domain": [0, 35], "range": [52.8, 1174], "nice": false, "zero": false},
                    "axis": {"title": null, "values": [0,1.25,2.5,3.75,5,6.25,7.5,8.75,10,11.25,12.5,13.75,15,16.25,17.5,18.75,20,21.25,22.5,23.75,25,26.25,27.5,28.75,30,31.25,32.5,33.75,35], "grid": true, "gridOpacity": {"condition": {"test": "datum.value % 5 == 0 && datum.value > 0", "value": 1}, "value": 0}, "labelExpr": "datum.value == 32.5 ? '[s]' : (datum.value % 5 == 0 ? format(datum.value, '~g') : '')"}},
              "y": {"field": "v", "type": "quantitative", "scale": {"domain": [4342, 4391.94], "nice": false, "zero": false},
                    "axis": {"title": null, "offset": -52.8, "values": [4342.5,4345,4347.5,4350,4352.5,4355,4357.5,4360,4362.5,4365,4367.5,4370,4372.5,4375,4377.5,4380,4382.5,4385,4387.5,4390], "grid": true, "gridOpacity": {"condition": {"test": "datum.value % 10 == 0", "value": 1}, "value": 0}, "labelExpr": "datum.value == 4385 ? '[MW]' : (datum.value % 10 == 0 ? format(datum.value, 'd') : '')"}}
            },
            "layer": [
              {"data": {"name": "p4vr"}, "mark": {"type": "rule", "strokeWidth": 2, "strokeDash": [18, 7]}, "encoding": {"y2": {"field": "v2"}, "stroke": {"field": "cur", "type": "nominal", "legend": null, "scale": {"domain": ["t0.5","t1","t11","t31","y49.3","y48.9","min"], "range": ["#0000ff","#0000ff","#ff0000","#0000ff","#0000ff","#ff0000","#8c8c8c"]}}}},
              {"data": {"name": "p4s"}, "mark": {"type": "line", "strokeWidth": 1.3}, "encoding": {"color": {"field": "s", "type": "nominal", "scale": {"domain": ["Gx ERV Caso 400MW","Gx ERV Caso 350MW","Gx ERV Caso 300MW"], "range": ["#ff00ff","#0000ff","#00ff00"]}, "legend": {"title": null, "orient": "none", "legendX": 1189.5, "legendY": 82.5}}, "detail": {"field": "g"}, "order": {"value": null}}},
              {"data": {"name": "p4mk"}, "mark": {"type": "rule", "strokeWidth": 2.5}, "encoding": {"x2": {"field": "t2"}, "stroke": {"field": "cur", "type": "nominal", "legend": null, "scale": {"domain": ["t0.5","t1","t11","t31","y49.3","y48.9","min"], "range": ["#0000ff","#0000ff","#ff0000","#0000ff","#0000ff","#ff0000","#8c8c8c"]}}}},
              {"data": {"name": "p4tk"}, "mark": {"type": "tick", "orient": "horizontal", "size": 22, "thickness": 2}, "encoding": {"fill": {"field": "cur", "type": "nominal", "legend": null, "scale": {"domain": ["t0.5","t1","t11","t31","y49.3","y48.9","min"], "range": ["#0000ff","#0000ff","#ff0000","#0000ff","#0000ff","#ff0000","#1a1a1a"]}}}},
              {"data": {"name": "p4tx"}, "mark": {"type": "text", "align": "left", "baseline": "middle", "dx": 6.5, "fill": "white", "stroke": "white", "strokeWidth": 6, "strokeJoin": "round"}, "encoding": {"text": {"field": "label"}}},
              {"data": {"name": "p4tx"}, "mark": {"type": "text", "align": "left", "baseline": "middle", "dx": 6.5}, "encoding": {"text": {"field": "label"}, "fill": {"field": "cur", "type": "nominal", "legend": null, "scale": {"domain": ["t0.5","t1","t11","t31","y49.3","y48.9","min"], "range": ["#0000ff","#0000ff","#ff0000","#0000ff","#0000ff","#ff0000","#1a1a1a"]}}}}
            ]
          },
          {"width": 1, "height": 33, "data": {"values": []}, "mark": "rule", "encoding": {}}
        ]
      }
    ]
  },
  {
    "bounds": "flush",
    "spacing": 0,
    "hconcat": [
      {"width": 209, "height": 47, "data": {"values": []}, "mark": "rule", "encoding": {}, "view": {"stroke": "#555555", "strokeWidth": 1}},
      {"width": 1036, "height": 47,
       "view": {"stroke": "#555555", "strokeWidth": 1},
       "layer": [
         {"data": {"values": [{"label": "Coordinador Eléctrico Nacional"}]}, "mark": {"type": "text", "fontSize": 8, "dx": -30.5, "dy": -9.5, "color": "#222222"}, "encoding": {"text": {"field": "label"}}},
         {"data": {"values": [{"label": "00Análisis(1)"}]}, "mark": {"type": "text", "fontSize": 8, "align": "right", "dx": 515, "dy": -9.5, "color": "#222222"}, "encoding": {"text": {"field": "label"}}}
       ]},
      {"width": 135, "height": 47,
       "view": {"stroke": "#555555", "strokeWidth": 1},
       "layer": [
         {"data": {"values": [{"label": "Date: 04/11/2021"}]}, "mark": {"type": "text", "fontSize": 8, "align": "left", "dx": -60.5, "dy": -9.5, "color": "#222222"}, "encoding": {"text": {"field": "label"}}},
         {"data": {"values": [{"label": "Annex:"}]}, "mark": {"type": "text", "fontSize": 8, "align": "left", "dx": -60.5, "dy": 17.5, "color": "#222222"}, "encoding": {"text": {"field": "label"}}}
       ]}
    ]
  }
]
}
